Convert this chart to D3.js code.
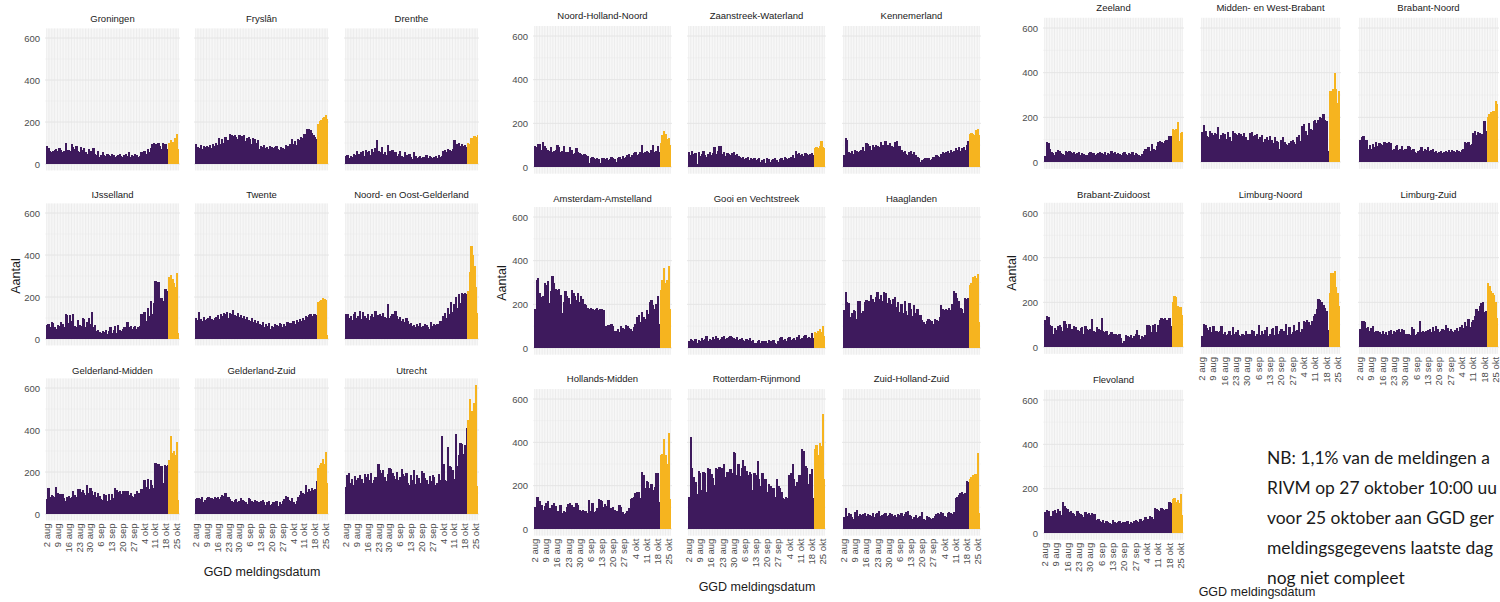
<!DOCTYPE html>
<html><head><meta charset="utf-8">
<script src="https://cdn.jsdelivr.net/npm/d3@7"></script>
<style>body{margin:0;background:#fff;overflow:hidden}svg{display:block}</style>
</head><body>
<script>
// ---------- data ----------
const tickLabels = ["2 aug","9 aug","16 aug","23 aug","30 aug","6 sep","13 sep","20 sep","27 sep","4 okt","11 okt","18 okt","25 okt"];
const nDays = 86;            // 2 aug .. 26 okt
const orangeFrom = 79;       // index of first incomplete day (20 okt)
const yTicks = [0, 200, 400, 600];

const groningen = [85,75,60,55,60,65,70, 60,75,65,55,60,100,65, 65,60,95,80,70,85,60, 55,80,65,75,55,50,70, 60,45,75,50,45,60,35, 45,55,45,40,50,45,40, 50,45,35,40,45,50,40, 35,45,50,40,55,35,45, 40,50,45,35,40,55,45, 60,50,70,55,75,95,100, 95,75,100,85,70,100,95, 95,70,100,115,105,90,125, 145,70];
const fryslan = [95,80,75,90,70,85,80, 85,80,90,75,95,85,100, 90,125,95,120,100,130,110, 115,145,140,135,140,130,120, 140,125,135,140,110,125,130, 120,95,125,120,100,115,70, 85,80,90,75,80,70,85, 80,75,80,85,70,65,80, 75,70,90,85,80,95,120, 95,110,90,120,115,130,125, 145,130,165,165,160,150,140, 130,120,190,205,210,220,225, 235,215];
const drenthe = [40,45,30,40,35,50,45, 60,50,45,55,60,40,65, 55,60,45,70,55,75,115, 60,55,80,50,55,45,90, 60,50,65,45,55,40,50, 60,40,35,55,45,30,50, 35,25,55,40,30,35,40, 30,35,25,45,30,40,35, 30,35,40,30,45,35,40, 60,65,55,70,65,60,70, 115,80,95,100,85,95,85, 90,80,100,95,125,110,135, 130,140];
const ijsselland = [65,70,55,80,75,55,50, 65,60,80,70,55,120,115, 75,115,85,120,60,55,90, 65,60,100,95,55,80,100, 70,130,55,65,40,45,35, 30,40,35,45,25,40,55, 30,45,60,30,65,45,40, 50,55,45,80,55,60,50, 55,60,50,55,60,120,90, 130,85,150,110,180,120,170, 275,140,270,175,195,180,240, 240,230,295,305,285,265,250, 315,30];
const twente = [100,90,130,95,85,105,90, 95,100,110,95,90,100,105, 115,95,120,110,125,120,130, 100,125,120,140,115,110,125, 105,115,100,110,95,105,90, 85,100,80,90,75,85,70, 65,80,55,70,60,75,50, 60,55,70,65,60,75,70, 55,70,60,80,65,75,70, 85,70,90,80,95,85,100, 90,110,105,115,120,110,120, 120,115,175,180,185,195,190, 185,20];
const noordOostGelderland = [120,120,100,110,90,120,130, 100,110,135,95,130,110,100, 120,90,110,120,105,135,110, 115,120,110,125,105,100,165, 100,110,120,90,135,110,95, 105,85,95,80,100,85,70, 75,60,65,55,70,60,75, 55,60,70,65,55,50,80, 60,70,65,70,60,85,55, 110,125,100,150,120,175,130, 165,200,150,215,170,220,215, 220,215,230,320,445,400,350, 250,125];
const gelderlandMidden = [70,125,80,90,85,80,130, 100,95,70,95,75,60,80, 85,75,80,110,90,80,120, 120,105,115,100,90,140,100, 125,110,90,105,80,100,85, 70,65,95,90,60,95,65, 95,75,125,115,105,110,95, 110,110,60,110,90,100,85, 80,95,110,100,90,120,110, 160,130,165,120,160,140,125, 245,200,240,190,230,150,235, 230,235,255,370,290,300,280, 345,65];
const gelderlandZuid = [70,75,75,70,80,55,65, 75,80,70,75,70,80,75, 80,70,80,90,85,100,75, 80,70,60,55,65,70,55, 60,75,65,60,55,50,75, 70,60,55,65,60,40,55, 60,65,55,45,55,60,45, 50,55,45,60,40,55,50, 60,70,85,80,65,60,75, 55,50,60,80,90,110,100, 95,140,105,120,110,125,115, 120,155,220,235,245,260,240, 295,150];
const utrecht = [130,185,195,150,165,140,180, 160,170,185,165,150,190,175, 190,160,195,150,160,175,165, 240,210,195,210,175,155,190, 220,215,195,180,165,200,160, 175,215,190,180,195,150,140, 185,160,210,145,185,170,150, 205,195,170,160,145,180,155, 185,175,140,150,190,160,370, 240,160,155,320,230,225,210, 165,380,230,280,340,335,285, 330,410,450,550,490,480,530, 615,135];

const noordHollandNoord = [95,90,105,105,80,115,95, 85,80,75,90,70,75,80, 100,90,70,75,95,70,65, 70,90,80,60,65,85,70, 65,60,55,60,55,50,20, 40,45,40,35,40,35,20, 40,40,35,40,30,35,45, 40,35,25,40,45,35,50, 40,45,55,60,45,55,65, 70,55,60,70,100,65,70, 75,70,65,80,100,70,75, 95,70,110,145,165,150,130, 135,100];
const zaanstreek = [70,55,75,60,65,15,70, 50,60,75,55,45,60,70, 55,65,90,60,75,95,95, 60,70,50,65,60,55,65, 70,55,60,50,45,40,45, 35,40,45,30,40,35,40, 30,35,40,25,30,35,20, 40,35,25,30,35,40,30, 25,35,40,30,45,40,35, 40,45,55,40,75,60,65, 55,60,50,65,60,55,60, 65,55,85,90,85,95,120, 90,85];
const kennemerland = [55,135,125,70,65,75,60, 80,75,70,75,80,90,75, 110,105,95,80,100,90,100, 95,90,115,100,85,120,100, 100,110,95,90,115,120,95, 95,80,70,75,60,55,70, 75,60,70,55,45,40,25, 30,35,40,35,40,30,35, 45,40,55,50,45,60,70, 65,70,75,65,80,70,75, 85,80,90,75,85,90,80, 100,120,150,155,150,145,170, 175,145];
const amsterdam = [180,310,320,250,235,240,300, 290,305,205,260,330,300,270, 265,270,245,160,210,260,240, 230,200,265,250,240,220,250, 210,240,225,200,195,185,180, 185,180,175,180,185,175,180, 180,175,100,100,105,95,110, 100,80,80,85,75,100,90, 85,105,100,90,85,80,95, 110,140,150,120,165,140,135, 175,155,210,220,195,180,200, 240,110,265,310,365,300,310, 375,180];
const gooi = [30,40,35,30,40,25,35, 30,45,35,40,55,30,40, 35,50,40,55,45,35,40, 50,55,40,45,50,55,50, 45,40,50,35,40,45,35, 30,40,35,45,30,35,25, 25,30,35,25,30,25,30, 25,35,30,25,35,25,20, 30,45,50,35,40,30,45, 50,35,40,45,35,50,60, 40,45,55,60,45,50,45, 70,45,75,70,80,85,75, 100,55];
const haaglanden = [175,255,210,205,140,160,175, 170,135,215,215,160,170,210, 220,150,215,245,225,210,235, 255,225,245,215,255,250,205, 230,220,200,225,235,190,210, 165,200,160,215,170,150,205, 180,145,195,160,180,140,150, 130,120,110,125,135,130,125, 110,135,130,125,140,195,180, 175,180,175,185,175,200,260, 250,230,215,185,180,160,230, 225,230,290,300,325,330,320, 340,120];
const hollandsMidden = [100,150,150,130,110,90,105, 120,130,95,85,110,120,105, 85,80,110,75,85,80,100, 115,120,110,100,95,120,110, 90,85,90,85,85,75,135, 85,120,80,85,95,140,135, 130,100,115,105,135,90,95, 100,90,85,75,110,100,80, 70,75,85,95,140,145,150, 165,170,170,145,265,250,190, 220,215,190,210,180,195,260, 260,125,340,345,415,340,300, 445,140];
const rotterdam = [150,425,280,240,215,160,270, 260,180,265,260,170,280,275, 255,235,205,280,275,285,260, 280,300,240,265,230,275,260, 355,350,250,300,245,280,320, 290,270,250,265,255,180,260, 250,315,230,200,260,180,230, 170,210,200,160,190,150,230, 200,190,170,145,140,150,145, 250,260,300,230,200,215,250, 250,370,360,290,280,210,255, 275,145,370,390,340,395,385, 530,230];
const zuidHollandZuid = [55,95,60,75,70,55,45, 80,90,60,70,65,70,75, 60,70,65,60,75,55,70, 75,85,60,65,70,75,60, 65,75,70,60,65,55,70, 65,75,60,70,80,85,65, 60,45,55,65,50,55,60, 80,45,40,60,55,50,45, 50,60,70,75,70,80,75, 60,55,75,80,75,70,80, 145,150,155,165,170,160,165, 220,215,230,240,250,255,255, 350,75];

const zeeland = [25,90,85,60,45,40,30, 45,55,50,40,35,30,50, 45,50,45,40,45,35,40, 45,30,40,35,30,30,40, 45,35,40,30,35,40,45, 40,35,45,30,40,35,50, 40,45,35,40,35,30,40, 45,35,30,40,35,45,30, 40,35,30,25,35,50,60, 45,65,50,80,60,55,70, 90,95,90,85,95,100,95, 115,115,150,145,150,180,95, 130,135];
const middenWestBrabant = [135,165,140,115,110,140,130, 120,130,125,155,105,120,130, 125,105,135,110,95,140,130, 125,120,130,125,115,130,110, 100,95,130,135,115,120,125, 105,110,120,90,105,110,100, 115,100,85,110,95,90,60, 100,110,90,80,75,85,95, 100,90,80,110,120,95,160, 170,140,120,175,150,145,185, 190,175,190,200,195,215,190, 185,50,320,320,325,400,325, 265,320];
const brabantNoord = [100,110,115,95,100,60,75, 60,80,65,90,70,85,80, 75,90,80,85,90,85,55, 60,70,75,55,60,70,55, 60,50,70,65,55,60,45, 40,50,55,65,50,60,55, 65,50,55,60,45,50,40, 45,50,40,45,50,45,55, 45,55,50,45,55,50,45, 55,60,90,85,90,75,80, 130,140,120,135,130,125,120, 185,140,200,215,225,230,230, 275,260];
const brabantZuidoost = [120,140,135,100,95,60,85, 75,95,100,90,70,115,105, 85,105,60,80,95,90,75, 70,85,90,60,95,80,75, 80,125,70,65,90,80,75, 130,70,65,70,55,60,65, 60,60,60,55,60,40,20, 25,55,50,45,55,40,50, 60,75,55,35,50,45,55, 100,100,95,65,100,105,65, 100,120,130,125,130,120,100, 130,95,200,230,225,185,180, 180,145];
const limburgNoord = [50,105,100,85,75,90,65, 95,70,70,65,70,95,60, 65,55,60,70,55,90,60, 65,75,55,50,60,55,70, 60,55,60,75,70,50,60, 100,55,70,60,75,90,50, 60,80,85,55,95,60,70, 80,60,70,105,55,90,60, 65,100,70,75,110,65,80, 115,110,120,110,100,115,140, 150,170,215,210,200,190,175, 160,75,240,330,330,340,270, 240,185];
const limburgZuid = [80,115,115,110,85,90,70, 85,95,65,70,70,65,60, 70,60,65,55,70,75,60, 70,65,75,80,65,80,75, 60,55,60,55,90,80,55, 60,65,115,65,70,65,70, 75,80,65,90,70,95,80, 65,70,80,75,100,85,70, 80,70,65,75,85,70,90, 100,85,110,95,125,90,110, 120,140,170,160,185,195,200, 155,160,285,275,250,240,235, 200,130];
const flevoland = [95,105,100,65,75,100,105, 90,110,100,80,140,120,115, 110,95,100,90,85,75,100, 90,85,80,70,95,85,90, 80,90,85,85,60,65,55, 50,60,45,55,50,45,40, 60,50,45,50,55,45,50, 50,45,55,40,50,45,55, 60,55,50,65,55,60,70, 60,65,75,70,65,115,110, 105,100,115,110,105,110,100, 140,135,155,160,140,150,135, 175,80];

// the note is cut off at the right edge in the reference; only its visible part is kept
const noteLines = ["NB: 1,1% van de meldingen a", "RIVM op 27 oktober 10:00 uu", "voor 25 oktober aan GGD ger", "meldingsgegevens laatste dag", "nog niet compleet"];

// ---------- layout ----------
const groups = [
  { cols: [45, 194, 344], w: 135,
    rows: [ {y600: 38, y0: 164, ty: 19}, {y600: 213, y0: 339, ty: 195}, {y600: 388, y0: 514, ty: 371} ],
    panels: [
      ["Groningen", groningen, 0, 0], ["Fryslân", fryslan, 0, 1], ["Drenthe", drenthe, 0, 2],
      ["IJsselland", ijsselland, 1, 0], ["Twente", twente, 1, 1], ["Noord- en Oost-Gelderland", noordOostGelderland, 1, 2],
      ["Gelderland-Midden", gelderlandMidden, 2, 0], ["Gelderland-Zuid", gelderlandZuid, 2, 1], ["Utrecht", utrecht, 2, 2]
    ],
    xAxisRow: [2, 2, 2], yLab: {x: 17, y: 276}, xLab: {x: 262, y: 573} },
  { cols: [533, 687, 842], w: 139,
    rows: [ {y600: 36, y0: 167, ty: 16}, {y600: 217, y0: 348, ty: 199}, {y600: 399, y0: 529, ty: 379} ],
    panels: [
      ["Noord-Holland-Noord", noordHollandNoord, 0, 0], ["Zaanstreek-Waterland", zaanstreek, 0, 1], ["Kennemerland", kennemerland, 0, 2],
      ["Amsterdam-Amstelland", amsterdam, 1, 0], ["Gooi en Vechtstreek", gooi, 1, 1], ["Haaglanden", haaglanden, 1, 2],
      ["Hollands-Midden", hollandsMidden, 2, 0], ["Rotterdam-Rijnmond", rotterdam, 2, 1], ["Zuid-Holland-Zuid", zuidHollandZuid, 2, 2]
    ],
    xAxisRow: [2, 2, 2], yLab: {x: 503, y: 283}, xLab: {x: 757, y: 588} },
  { cols: [1043, 1200, 1358], w: 141,
    rows: [ {y600: 28, y0: 162, ty: 8}, {y600: 213, y0: 347, ty: 195}, {y600: 400, y0: 533, ty: 380} ],
    panels: [
      ["Zeeland", zeeland, 0, 0], ["Midden- en West-Brabant", middenWestBrabant, 0, 1], ["Brabant-Noord", brabantNoord, 0, 2],
      ["Brabant-Zuidoost", brabantZuidoost, 1, 0], ["Limburg-Noord", limburgNoord, 1, 1], ["Limburg-Zuid", limburgZuid, 1, 2],
      ["Flevoland", flevoland, 2, 0]
    ],
    xAxisRow: [2, 1, 1], yLab: {x: 1013, y: 273}, xLab: {x: 1257, y: 593} }
];

const PURPLE = "#3e1a5d", ORANGE = "#f6b41f";
const FONT = "'Liberation Sans', Arial, sans-serif";

const svg = d3.select("body").append("svg").attr("width", 1500).attr("height", 602);

groups.forEach(G => {
  G.panels.forEach(([name, values, r, c]) => {
    const R = G.rows[r];
    const x0 = G.cols[c];
    const k = (R.y0 - R.y600) / 600;
    const y = d3.scaleLinear().domain([-30.75, 645.75]).range([R.y0 + 30.75 * k, R.y600 - 45.75 * k]);
    const x = d3.scaleBand().domain(d3.range(nDays)).range([x0, x0 + G.w]).paddingInner(0).paddingOuter(0.6);
    const g = svg.append("g");
    const [yb, yt] = y.range();

    // horizontal grid
    g.selectAll("line.hm").data([100, 300, 500]).join("line")
      .attr("x1", x0).attr("x2", x0 + G.w).attr("y1", d => y(d)).attr("y2", d => y(d))
      .attr("stroke", "#f2f2f2").attr("stroke-width", 0.6);
    g.selectAll("line.hM").data(yTicks).join("line")
      .attr("x1", x0).attr("x2", x0 + G.w).attr("y1", d => y(d)).attr("y2", d => y(d))
      .attr("stroke", "#e6e6e6").attr("stroke-width", 1);
    // vertical grid per day
    g.append("g").selectAll("line").data(d3.range(nDays)).join("line")
      .attr("x1", d => x(d) + x.bandwidth() / 2).attr("x2", d => x(d) + x.bandwidth() / 2)
      .attr("y1", yb).attr("y2", yt)
      .attr("stroke", "#e4e4e4").attr("stroke-width", 0.7);

    // bars (crisp and slightly widened so that neighbouring bars join without seams)
    g.append("g").attr("shape-rendering", "crispEdges").selectAll("rect").data(values).join("rect")
      .attr("x", (d, i) => x(i)).attr("width", (d, i) => x.bandwidth() + (i === nDays - 1 ? 0 : 0.7))
      .attr("y", d => y(d)).attr("height", d => y(0) - y(d))
      .attr("fill", (d, i) => i >= orangeFrom ? ORANGE : PURPLE);

    // title
    svg.append("text").attr("x", x0 + G.w / 2).attr("y", R.ty).attr("text-anchor", "middle")
      .attr("dominant-baseline", "middle").attr("font-family", FONT).attr("font-size", 9.5)
      .attr("fill", "#1a1a1a").text(name);

    // y axis (first column)
    if (c === 0) {
      const ya = d3.axisLeft(y).tickValues(yTicks).tickSize(0).tickPadding(5);
      const ag = svg.append("g").attr("transform", `translate(${x0},0)`).call(ya);
      ag.select(".domain").remove();
      ag.selectAll("text").attr("font-family", FONT).attr("font-size", 9.5).attr("fill", "#4d4d4d");
    }
    // x axis (bottom panel of column)
    if (G.xAxisRow[c] === r) {
      const xa = d3.axisBottom(x).tickValues(d3.range(0, nDays, 7)).tickFormat((d, i) => tickLabels[i]).tickSize(0).tickPadding(3);
      const ag = svg.append("g").attr("transform", `translate(0,${yb})`).call(xa);
      ag.select(".domain").remove();
      ag.selectAll("text").attr("font-family", FONT).attr("font-size", 9.5).attr("fill", "#4d4d4d")
        .attr("transform", "rotate(-90)").attr("text-anchor", "end").attr("dy", "0.35em")
        .attr("x", -3).attr("y", 0);
    }
  });
  svg.append("text").attr("transform", `translate(${G.yLab.x},${G.yLab.y}) rotate(-90)`)
    .attr("text-anchor", "middle").attr("dominant-baseline", "middle")
    .attr("font-family", FONT).attr("font-size", 12.5).attr("fill", "#1a1a1a").text("Aantal");
  svg.append("text").attr("x", G.xLab.x).attr("y", G.xLab.y).attr("text-anchor", "middle")
    .attr("dominant-baseline", "middle")
    .attr("font-family", FONT).attr("font-size", 12.5).attr("fill", "#1a1a1a").text("GGD meldingsdatum");
});

// note (shrunk until every line ends inside the 1500 px frame)
const noteX = 1267, noteRight = 1497;
const note = svg.append("g").selectAll("text").data(noteLines).join("text")
  .attr("x", noteX).attr("y", (d, i) => 464 + i * 30)
  .attr("font-family", "Lato, 'Open Sans', sans-serif").attr("fill", "#1a1a1a")
  .text(d => d);
let fs = 18.5;
note.attr("font-size", fs);
let widest = d3.max(note.nodes(), n => n.getComputedTextLength());
if (widest > noteRight - noteX) {
  fs = fs * (noteRight - noteX) / widest;
  note.attr("font-size", fs);
}
</script>
</body></html>
